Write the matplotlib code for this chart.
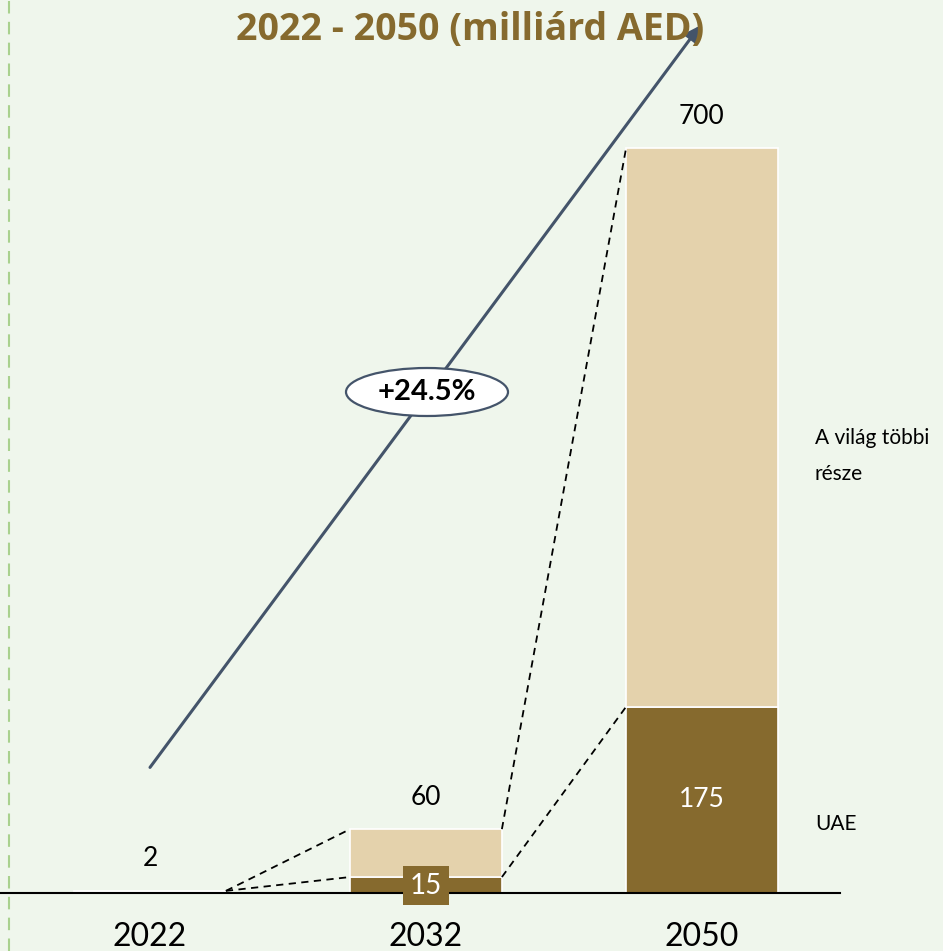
import matplotlib
matplotlib.use("Agg")
import matplotlib.pyplot as plt
from matplotlib.patches import Ellipse
from matplotlib.lines import Line2D
import numpy as np

years = ["2022", "2032", "2050"]
totals = [2, 60, 700]
uae = [0.5, 15, 175]
rest = [t - u for t, u in zip(totals, uae)]
uae_labels = ["", "15", "175"]
growth_label = "+24.5%"
title = "2022 - 2050 (milliárd AED)"
series_names = ["A világ többi\nrésze", "UAE"]

BG = "#eff6ec"
DARK = "#866a2e"
LIGHT = "#e4d2ac"
SLATE = "#44546a"

W, H = 943, 951
fig = plt.figure(figsize=(W / 100, H / 100), dpi=100, facecolor=BG)
base_px = 893
ax = fig.add_axes([0, (H - base_px) / H, 840 / W, base_px / H])
ax.set_facecolor(BG)

x = np.arange(len(years))
bw = 0.55
ax.bar(x, uae, bw, color=DARK, edgecolor="white", linewidth=1.2, zorder=2)
ax.bar(x, rest, bw, bottom=uae, color=LIGHT, edgecolor="white", linewidth=1.2, zorder=2)

ax.set_xlim(-150 / 276, 2.5)
ax.set_ylim(0, base_px / (745 / 700))

for s in ["top", "right", "left"]:
    ax.spines[s].set_visible(False)
ax.spines["bottom"].set_linewidth(1.5)
ax.set_yticks([])
ax.set_xticks(x)
ax.set_xticklabels(years, fontsize=23, family=["Lato", "DejaVu Sans"])
ax.tick_params(axis="x", length=0, pad=21)

# total labels
for xi, t in zip(x, totals):
    ax.text(xi, t + 30, str(t), ha="center", va="center", fontsize=19,
            family=["Lato", "DejaVu Sans"], color="black")

# UAE value labels
t15 = ax.text(x[1], 7, uae_labels[1], ha="center", va="center", fontsize=20,
              color="white", family=["Lato", "DejaVu Sans"], zorder=5,
              bbox=dict(boxstyle="square,pad=0.24", fc=DARK, ec="none"))
t15.set_clip_on(False)
ax.text(x[2], uae[2] - 87, uae_labels[2], ha="center", va="center", fontsize=19,
        color="white", family=["Lato", "DejaVu Sans"], zorder=5)

# dashed connectors
dash = dict(color="black", linestyle=(0, (4, 3)), linewidth=1.3, zorder=3)
r0 = x[0] + bw / 2
l1, r1 = x[1] - bw / 2, x[1] + bw / 2
l2 = x[2] - bw / 2
ax.plot([r0, l1], [totals[0], totals[1]], **dash)
ax.plot([r0, l1], [totals[0], uae[1]], **dash)
ax.plot([r1, l2], [totals[1], totals[2]], **dash)
ax.plot([r1, l2], [uae[1], uae[2]], **dash)

# growth arrow
ax.annotate("", xy=(1.993, 815), xytext=(0.0, 118),
            arrowprops=dict(arrowstyle="-|>,head_length=0.9,head_width=0.45",
                            color=SLATE, lw=2.2, shrinkA=0, shrinkB=0), zorder=4)
ell_x = (427 - 150) / 276
ell_y = (893 - 392) / (745 / 700)
ax.add_patch(Ellipse((ell_x, ell_y), 162 / 276, 48 / (745 / 700), fc="white",
                     ec=SLATE, lw=1.6, zorder=5))
ax.text(ell_x, ell_y, growth_label, ha="center", va="center", fontsize=21,
        fontweight="bold", family=["Lato", "DejaVu Sans"], zorder=6)

# series labels on right
fig.text(815 / W, 1 - 456 / H, series_names[0], ha="left", va="center",
         fontsize=15, family=["Lato", "DejaVu Sans"], linespacing=2.0)
fig.text(815 / W, 1 - 824 / H, series_names[1], ha="left", va="center",
         fontsize=15, family=["Lato", "DejaVu Sans"])

# title
fig.text(470 / W, 1 - 30 / H, title, ha="center", va="center", fontsize=27,
         fontweight="bold", color=DARK,
         family=["Liberation Sans Narrow", "Open Sans", "DejaVu Sans"])

# left dashed green line
fig.add_artist(Line2D([9 / W, 9 / W], [0, 1], color="#a9d18e", lw=1.5,
                      linestyle=(0, (6, 4)), transform=fig.transFigure))

fig.savefig("out.png", dpi=100, facecolor=BG)
